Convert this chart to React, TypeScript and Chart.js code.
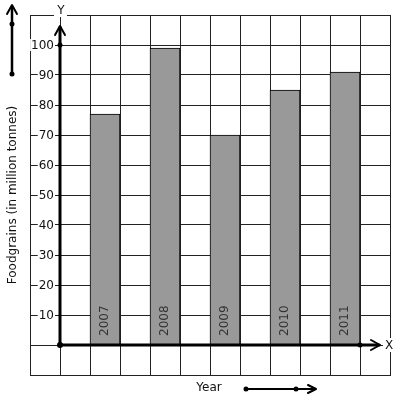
import React, { useEffect, useRef } from "react";
import { Chart, registerables } from "chart.js";

Chart.register(...registerables);

const years = ["2007", "2008", "2009", "2010", "2011"];
const foodgrains = [77, 99, 70, 85, 91];
const yTickLabels = [10, 20, 30, 40, 50, 60, 70, 80, 90, 100];
const yTitle = "Foodgrains (in million tonnes)";
const xTitle = "Year";

const FONT = "'DejaVu Sans', sans-serif";

function arrowHead(ctx: CanvasRenderingContext2D, tx: number, ty: number, ax: number, ay: number, bx: number, by: number) {
  ctx.beginPath();
  ctx.moveTo(ax, ay);
  ctx.lineTo(tx, ty);
  ctx.lineTo(bx, by);
  ctx.stroke();
}

function dot(ctx: CanvasRenderingContext2D, x: number, y: number, r = 2.5) {
  ctx.beginPath();
  ctx.arc(x, y, r, 0, Math.PI * 2);
  ctx.fill();
}

const decorPlugin = {
  id: "decor",
  afterDatasetsDraw(chart: any) {
    const ctx: CanvasRenderingContext2D = chart.ctx;
    const xs = chart.scales.x;
    const ys = chart.scales.y;
    const ox = xs.getPixelForValue(0);
    const oy = ys.getPixelForValue(0);
    const area = chart.chartArea;
    ctx.save();
    ctx.font = `12px ${FONT}`;

    // bar labels
    const meta = chart.getDatasetMeta(0);
    ctx.fillStyle = "#333";
    ctx.textAlign = "left";
    ctx.textBaseline = "middle";
    meta.data.forEach((bar: any, i: number) => {
      ctx.save();
      ctx.translate(bar.x, oy - 9);
      ctx.rotate(-Math.PI / 2);
      ctx.fillText(years[i], 0, 0);
      ctx.restore();
    });

    // y tick labels with white background
    ctx.textAlign = "right";
    ctx.textBaseline = "middle";
    yTickLabels.forEach((v) => {
      const py = ys.getPixelForValue(v);
      const t = String(v);
      const w = ctx.measureText(t).width;
      const rx = ox - 6;
      ctx.fillStyle = "#fff";
      ctx.fillRect(rx - w - 1, py - 6, w + 2, 12);
      ctx.fillStyle = "#111";
      ctx.fillText(t, rx, py + 0.5);
    });

    ctx.strokeStyle = "#000";
    ctx.fillStyle = "#000";
    ctx.lineCap = "round";
    ctx.lineJoin = "round";

    // Y axis
    const yTip = area.top + 11;
    ctx.lineWidth = 3;
    ctx.beginPath();
    ctx.moveTo(ox, oy);
    ctx.lineTo(ox, yTip + 1);
    ctx.stroke();
    ctx.lineWidth = 2;
    arrowHead(ctx, ox, yTip, ox - 5, yTip + 9, ox + 5, yTip + 9);
    dot(ctx, ox, ys.getPixelForValue(100));

    // X axis
    const xTip = area.right - 10;
    ctx.lineWidth = 3;
    ctx.beginPath();
    ctx.moveTo(ox, oy);
    ctx.lineTo(xTip - 1, oy);
    ctx.stroke();
    ctx.lineWidth = 2;
    arrowHead(ctx, xTip, oy, xTip - 9, oy - 5, xTip - 9, oy + 5);
    dot(ctx, ox, oy, 3);
    dot(ctx, xs.getPixelForValue(10), oy);

    // axis letters
    ctx.textAlign = "center";
    ctx.textBaseline = "middle";
    ctx.fillStyle = "#fff";
    ctx.fillRect(ox - 6, area.top - 11, 13, 13);
    ctx.fillRect(area.right - 7, oy - 7, 13, 14);
    ctx.fillStyle = "#111";
    ctx.fillText("Y", ox + 1, area.top - 4);
    ctx.fillText("X", area.right - 1, oy + 0.5);

    // y title
    ctx.save();
    ctx.translate(13, 195);
    ctx.rotate(-Math.PI / 2);
    ctx.fillStyle = "#111";
    ctx.fillText(yTitle, 0, 0);
    ctx.restore();

    // x title
    ctx.fillStyle = "#111";
    ctx.fillText(xTitle, 209, 388);

    // top-left arrow
    ctx.fillStyle = "#000";
    ctx.lineWidth = 2.5;
    ctx.beginPath();
    ctx.moveTo(12, 74);
    ctx.lineTo(12, 7);
    ctx.stroke();
    ctx.lineWidth = 2;
    arrowHead(ctx, 12, 5, 7, 14, 17, 14);
    dot(ctx, 12, 24);
    dot(ctx, 12, 74);

    // bottom arrow
    ctx.lineWidth = 2;
    ctx.beginPath();
    ctx.moveTo(246, 389);
    ctx.lineTo(315, 389);
    ctx.stroke();
    arrowHead(ctx, 316, 389, 308, 385, 308, 393);
    dot(ctx, 246, 389);
    dot(ctx, 296, 389);

    ctx.restore();
  },
};

export default function App() {
  const ref = useRef<HTMLCanvasElement | null>(null);
  useEffect(() => {
    if (!ref.current) return;
    const chart = new Chart(ref.current, {
      type: "bar",
      data: {
        datasets: [
          {
            data: foodgrains.map((v, i) => ({ x: 1.5 + 2 * i, y: v })),
            backgroundColor: "#999999",
            borderColor: "#000",
            borderWidth: 1,
            categoryPercentage: 1,
            barPercentage: 1,
          },
        ],
      },
      options: {
        animation: false,
        responsive: false,
        maintainAspectRatio: false,
        events: [],
        layout: { padding: { left: 30, right: 7, top: 15, bottom: 26 } },
        plugins: { legend: { display: false }, tooltip: { enabled: false } },
        scales: {
          x: {
            type: "linear",
            offset: false,
            min: -1,
            max: 11,
            ticks: { display: false, stepSize: 1 },
            grid: { color: "#222", lineWidth: 1, drawTicks: false, offset: false },
            border: { display: true, color: "#222" },
          },
          y: {
            type: "linear",
            min: -10,
            max: 110,
            ticks: { display: false, stepSize: 10 },
            grid: { color: "#222", lineWidth: 1, drawTicks: false },
            border: { display: true, color: "#222" },
          },
        },
      },
      plugins: [decorPlugin],
    } as any);
    return () => chart.destroy();
  }, []);
  return (
    <div style={{ position: "absolute", left: 0, top: 0, width: 397, height: 401, background: "#fff" }}>
      <canvas ref={ref} width={397} height={401} style={{ width: 397, height: 401, display: "block" }} />
    </div>
  );
}
